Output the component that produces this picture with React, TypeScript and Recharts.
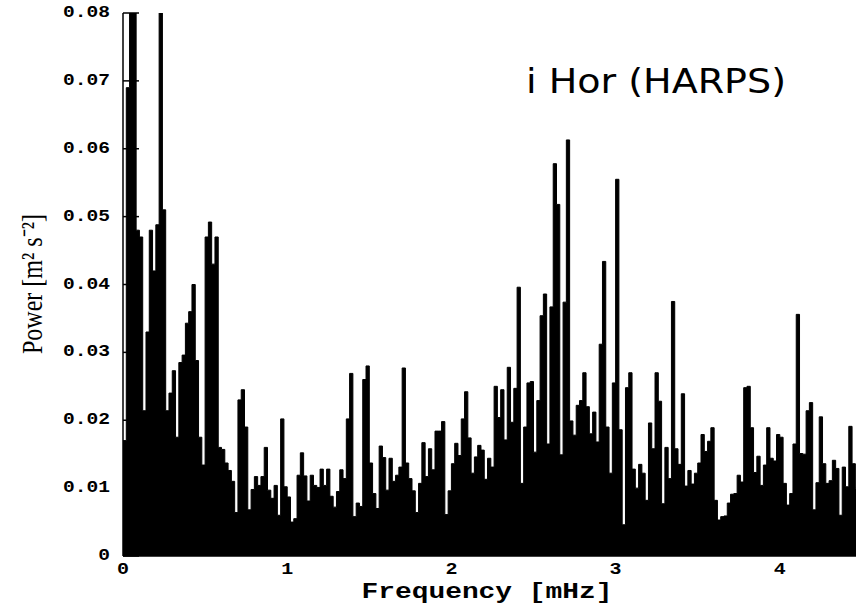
import React from 'react';
import { ComposedChart, Area, XAxis, YAxis } from 'recharts';

// power spectrum, one value every 0.02 mHz
const STEP = 0.02;
const power0to1 = [
  0.017, 0.069, 0.095, 0.095, 0.048, 0.047, 0.0214, 0.033, 0.048, 0.042,
  0.0488, 0.085, 0.051, 0.0214, 0.024, 0.0273, 0.0175, 0.0285, 0.0296, 0.0343,
  0.036, 0.04, 0.0288, 0.0175, 0.0134, 0.047, 0.0492, 0.043, 0.047, 0.016,
  0.0157, 0.0137, 0.0126, 0.011, 0.0064, 0.023, 0.0245, 0.019, 0.0068, 0.0098,
  0.0117, 0.0104, 0.0117, 0.016, 0.0097, 0.0085, 0.0104, 0.006, 0.0202, 0.0102,
];
const power1to2 = [
  0.0087, 0.005, 0.0055, 0.0119, 0.0152, 0.0118, 0.0081, 0.0119, 0.0104, 0.0101,
  0.0128, 0.0104, 0.0128, 0.0088, 0.0072, 0.0095, 0.0127, 0.0114, 0.0202, 0.0269,
  0.0058, 0.0078, 0.0073, 0.026, 0.028, 0.0137, 0.0092, 0.007, 0.0162, 0.0145,
  0.0097, 0.0144, 0.011, 0.0119, 0.0131, 0.0277, 0.0137, 0.0114, 0.0096, 0.0064,
  0.0107, 0.0167, 0.0117, 0.0158, 0.0127, 0.0184, 0.0184, 0.0198, 0.0061, 0.0096,
];
const power2to3 = [
  0.0136, 0.0166, 0.0148, 0.0202, 0.0242, 0.0174, 0.0122, 0.0146, 0.0163, 0.0156,
  0.0113, 0.0144, 0.0131, 0.025, 0.0204, 0.0245, 0.0171, 0.0278, 0.0197, 0.0247,
  0.0396, 0.0107, 0.019, 0.0255, 0.0257, 0.0153, 0.0229, 0.0354, 0.0386, 0.0165,
  0.0367, 0.0578, 0.0518, 0.0149, 0.0374, 0.0613, 0.0199, 0.0178, 0.0222, 0.0229,
  0.027, 0.022, 0.018, 0.0212, 0.0168, 0.0312, 0.0434, 0.019, 0.0122, 0.0255,
];
const power3to4 = [
  0.0555, 0.0186, 0.0046, 0.0248, 0.027, 0.0128, 0.01, 0.0135, 0.0122, 0.0082,
  0.0196, 0.0158, 0.027, 0.0228, 0.0077, 0.016, 0.0114, 0.0375, 0.0158, 0.0135,
  0.0239, 0.0103, 0.0126, 0.0106, 0.0122, 0.0137, 0.0179, 0.0154, 0.0169, 0.0189,
  0.0082, 0.0053, 0.0058, 0.0059, 0.0078, 0.0091, 0.0092, 0.0119, 0.0109, 0.0248,
  0.025, 0.0189, 0.0123, 0.0147, 0.0104, 0.0134, 0.0189, 0.0144, 0.014, 0.0179,
];
const power4on = [
  0.0175, 0.0107, 0.0075, 0.0092, 0.0165, 0.0356, 0.0151, 0.015, 0.0214, 0.0226,
  0.0068, 0.0108, 0.0205, 0.0136, 0.0107, 0.0111, 0.0141, 0.0129, 0.006, 0.0131,
  0.0102, 0.0191, 0.0136, 0.01, 0.0105,
];

const yTicks = [0, 0.01, 0.02, 0.03, 0.04, 0.05, 0.06, 0.07, 0.08];
const rightTicks = [0.01, 0.02, 0.03, 0.04, 0.05, 0.06, 0.07];
const xTicks = [0, 1, 2, 3, 4];
const xMinorTicks = [0.5, 1.5, 2.5, 3.5];

const allPower = [...power0to1, ...power1to2, ...power2to3, ...power3to4, ...power4on];
const data = allPower.map((p, i) => ({ f: +(i * STEP).toFixed(2), p }));

const tickFont = {
  fontFamily: '"Liberation Mono", monospace',
  fontWeight: 700,
  fontSize: 16,
  fill: '#000',
};

const YTick = ({ x, y, payload }: any) => {
  const s = payload.value === 0 ? '0' : payload.value.toFixed(2);
  return (
    <text x={x} y={y} textAnchor="end" dominantBaseline="central" textLength={11.75 * s.length} lengthAdjust="spacingAndGlyphs" {...tickFont}>
      {s}
    </text>
  );
};

const XTick = ({ x, y, payload }: any) => (
  <text x={x} y={y} textAnchor="middle" dominantBaseline="central" textLength={12} lengthAdjust="spacingAndGlyphs" {...tickFont}>
    {String(payload.value)}
  </text>
);

export default function App() {
  return (
    <div style={{ width: 856, height: 606, overflow: 'hidden', background: '#fff' }}>
      <style>{'body{margin:0}'}</style>
      <ComposedChart width={860} height={606} data={data} margin={{ top: 13, right: 3, bottom: 0, left: 0 }}>
        <XAxis
          xAxisId="bottom"
          dataKey="f"
          type="number"
          domain={[0, 4.47]}
          allowDataOverflow
          ticks={xTicks}
          height={50}
          tickLine={false}
          tickSize={0}
          tickMargin={14}
          tick={<XTick />}
          axisLine={{ stroke: '#000', strokeWidth: 1.5 }}
        />
        <XAxis
          xAxisId="top"
          orientation="top"
          dataKey="f"
          type="number"
          domain={[0, 4.47]}
          allowDataOverflow
          ticks={xTicks}
          height={0}
          tickSize={-10}
          tick={false}
          tickLine={{ stroke: '#000', strokeWidth: 1.5 }}
          axisLine={{ stroke: '#000', strokeWidth: 1.5 }}
        />
        <XAxis
          xAxisId="topMinor"
          orientation="top"
          dataKey="f"
          type="number"
          domain={[0, 4.47]}
          allowDataOverflow
          ticks={xMinorTicks}
          height={0}
          tickSize={-5}
          tick={false}
          tickLine={{ stroke: '#000', strokeWidth: 1.5 }}
          axisLine={false}
        />
        <YAxis
          yAxisId="left"
          type="number"
          domain={[0, 0.08]}
          allowDataOverflow
          ticks={yTicks}
          width={123}
          tickSize={-16}
          tickMargin={29}
          tick={<YTick />}
          tickLine={{ stroke: '#000', strokeWidth: 1.5 }}
          axisLine={{ stroke: '#000', strokeWidth: 1.5 }}
        />
        <YAxis
          yAxisId="right"
          orientation="right"
          type="number"
          domain={[0, 0.08]}
          allowDataOverflow
          ticks={rightTicks}
          width={0}
          tickSize={-13}
          tick={false}
          tickLine={{ stroke: '#000', strokeWidth: 1.5 }}
          axisLine={false}
        />
        <Area
          xAxisId="bottom"
          yAxisId="left"
          dataKey="p"
          type="stepAfter"
          fill="#000"
          fillOpacity={1}
          stroke="#000"
          strokeWidth={1}
          dot={false}
          activeDot={false}
          isAnimationActive={false}
        />
        <text x={526} y={93} fontFamily='"DejaVu Sans", sans-serif' fontSize={33} textLength={260} lengthAdjust="spacingAndGlyphs" fill="#000">
          i Hor (HARPS)
        </text>
        <text x={487} y={598} textAnchor="middle" textLength={251} lengthAdjust="spacingAndGlyphs" {...tickFont} fontSize={22}>
          Frequency [mHz]
        </text>
        <text transform="translate(42,284) rotate(-90) scale(1,1.35)" textAnchor="middle" fontFamily='"Liberation Serif", serif' fontSize={22} textLength={140} lengthAdjust="spacingAndGlyphs" fill="#000">
          Power [m² s⁻²]
        </text>
      </ComposedChart>
    </div>
  );
}
